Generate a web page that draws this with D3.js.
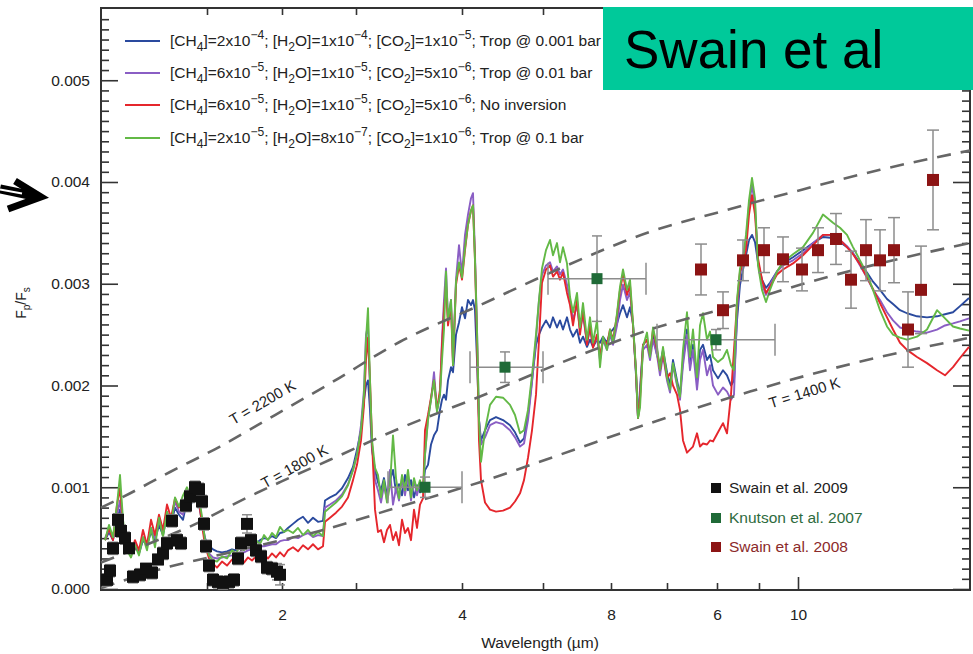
<!DOCTYPE html>
<html><head><meta charset="utf-8">
<script src="https://cdn.jsdelivr.net/npm/d3@7"></script>
<style>
body{margin:0;background:#fff}
svg{display:block}
text{font-family:"Liberation Sans",Arial,Helvetica,sans-serif}
</style>
</head><body>
<svg id="c" width="973" height="654"></svg>
<script>
// Fp/Fs values are given in units of 10^-3
const FLUX_UNIT = 1e-3;

// stitched wavelength axis positions (axis units) and tick labels
const xTickPos    = [10.6, 18.1, 25.5, 36.1, 44.2, 51.0, 56.6, 61.6, 65.8, 69.7];
const xTickLabels = ['', '2', '', '4', '', '8', '', '6', '', '10'];
const yTickMajor  = [0, 0.001, 0.002, 0.003, 0.004, 0.005];

// model spectra sample positions
const modelX = [
 0.4,0.8,1.2,1.6,1.9,2.2,2.6,3.0,3.4,3.8, 4.2,4.6,5.0,5.4,5.8,6.2,6.6,7.0,7.4,7.8, 8.2,8.6,9.0,9.4,9.8,10.1,10.4,10.8,11.2,11.6, 12.1,12.6,13.1,13.5,13.9,14.3,14.7,15.1,15.5,15.9, 16.3,16.7,17.1,17.5,17.9,18.3,18.7,19.2,19.7,20.2, 20.7,21.2,21.7,22.2,
 22.4,22.9,23.5,24.1,24.7,25.2,25.6,26.0,26.3,26.5, 26.7,26.9,27.1,27.4,27.7,28.0,28.3,28.6,28.9,29.2, 29.5,29.8,30.1,30.4,30.7,31.0,31.3,31.6,31.9,32.2,
 32.4,32.7,33.0,33.3,33.6,33.9,34.1,34.3,34.5,34.7, 35.0,35.2,35.5,35.8,36.1,36.4,36.7,37.0,37.2,37.4, 37.6,37.8,38.0,
 38.4,38.9,39.5,40.2,40.9,41.4,41.9,42.3,42.7,43.1, 43.5,43.8,44.1,44.5,44.9,45.2,45.6,45.9,46.2,46.6, 46.9,47.2,47.6,47.9,48.2,48.6,48.9,49.2,49.6,49.9, 50.2,50.6,50.9,51.2,51.6,51.9,52.2,52.6,52.9,53.2, 53.5,53.7,53.9,
 54.2,54.6,54.9,55.2,55.6,55.9,56.2,56.6,56.9,57.2, 57.6,57.9,58.2,58.6,58.9,59.2,59.6,59.9,60.2,60.6, 60.9,61.2,61.7,62.2,62.6,63.0,63.3,63.6,63.9,64.2, 64.5,64.8,65.1,65.4,65.7,66.1,66.5,66.9,67.6,68.2, 69.2,70.2,71.2,72.2,73.2,73.9,74.6,75.2,75.9,76.6, 77.2,77.9,78.6,79.2,79.9,80.6,81.6,82.6,83.6,84.4, 85.2,85.9,86.8
];

// [CH4]=2e-4; [H2O]=1e-4; [CO2]=1e-5; Trop @ 0.001 bar
const modelBlue = [
 0.48,0.56,0.48,0.68,0.78,0.58,0.40,0.35,0.43,0.35, 0.48,0.43,0.56,0.48,0.63,0.53,0.73,0.63,0.80,0.73, 0.68,0.87,0.83,0.95,0.83,0.66,0.50,0.42,0.39,0.37, 0.36,0.37,0.39,0.38,0.41,0.40,0.43,0.42,0.45,0.48, 0.50,0.49,0.52,0.50,0.55,0.56,0.60,0.64,0.68,0.71, 0.65,0.70,0.66,0.67,
 0.87,0.90,0.93,0.99,1.09,1.20,1.37,1.56,1.86,2.00, 2.05,1.76,1.37,1.17,1.05,0.97,1.09,0.92,1.07,1.17, 0.95,1.03,0.92,1.12,0.97,1.07,0.90,1.02,0.95,0.99,
 1.17,1.22,1.42,1.51,1.56,1.76,1.86,1.91,1.86,2.05, 2.18,2.13,2.50,2.62,2.77,2.66,2.84,2.79,2.84,2.74, 2.25,1.66,1.46,
 1.56,1.66,1.69,1.66,1.61,1.54,1.44,1.48,1.71,2.05, 2.40,2.50,2.57,2.64,2.57,2.67,2.57,2.64,2.55,2.67, 2.55,2.48,2.55,2.42,2.48,2.38,2.45,2.38,2.45,2.42, 2.48,2.42,2.52,2.55,2.61,2.71,2.79,2.67,2.77,2.61, 2.10,1.68,1.96,
 2.40,2.45,2.33,2.50,2.30,2.20,2.35,2.13,2.00,2.25, 2.05,1.91,2.25,2.55,2.20,2.40,2.05,2.35,2.40,2.25, 2.30,2.15,2.07,2.15,2.10,2.00,2.05,2.64,2.99,3.14, 3.28,3.43,3.48,3.41,3.21,3.04,2.96,3.01,3.12,3.20, 3.26,3.33,3.40,3.46,3.45,3.41,3.36,3.30,3.20,3.11, 3.02,2.94,2.85,2.80,2.74,2.71,2.68,2.67,2.68,2.70, 2.72,2.78,2.86
];

// [CH4]=6e-5; [H2O]=1e-5; [CO2]=5e-6; Trop @ 0.01 bar
const modelPurple = [
 0.50,0.58,0.50,0.73,0.87,0.60,0.43,0.36,0.46,0.36, 0.51,0.45,0.60,0.50,0.68,0.55,0.76,0.65,0.86,0.76, 0.73,0.92,0.87,0.99,0.87,0.68,0.46,0.35,0.31,0.30, 0.31,0.32,0.33,0.34,0.36,0.36,0.38,0.39,0.40,0.42, 0.42,0.43,0.44,0.44,0.47,0.48,0.48,0.51,0.50,0.53, 0.55,0.51,0.53,0.52,
 0.80,0.83,0.87,0.93,1.03,1.17,1.32,1.61,1.96,2.50, 2.59,1.96,1.42,1.07,0.97,0.85,1.02,0.87,1.17,0.83, 0.99,0.87,1.09,0.92,1.12,0.87,1.07,0.92,1.05,0.95,
 1.32,1.68,1.86,2.13,1.76,1.91,2.45,2.84,3.15,2.64, 2.84,2.25,3.04,3.38,3.09,3.48,3.68,3.84,3.89,3.28, 2.55,1.66,1.42,
 1.49,1.61,1.64,1.62,1.56,1.49,1.40,1.43,1.66,2.03, 2.45,2.84,3.09,3.18,3.21,3.12,3.17,3.09,3.14,2.99, 2.84,2.64,2.79,2.55,2.69,2.42,2.55,2.40,2.47,2.25, 2.45,2.35,2.50,2.40,2.59,2.84,2.99,2.84,2.92,2.59, 2.13,1.68,1.91,
 2.35,2.40,2.25,2.45,2.30,2.10,2.30,2.05,1.93,2.20, 2.00,1.86,2.20,2.50,2.15,2.35,1.96,2.25,2.35,2.10, 2.20,2.00,1.91,1.98,1.94,1.86,1.91,2.74,3.09,3.21, 3.43,3.77,3.97,3.77,3.21,2.99,2.89,2.99,3.12,3.18, 3.23,3.30,3.40,3.48,3.48,3.43,3.37,3.30,3.18,3.06, 2.94,2.84,2.72,2.64,2.57,2.55,2.53,2.52,2.55,2.59, 2.61,2.63,2.66
];

// [CH4]=6e-5; [H2O]=1e-5; [CO2]=5e-6; No inversion
const modelRed = [
 0.48,0.60,0.48,0.83,0.99,0.63,0.43,0.36,0.48,0.38, 0.58,0.43,0.68,0.53,0.73,0.58,0.83,0.70,0.89,0.80, 0.83,0.95,0.89,1.01,0.87,0.63,0.43,0.30,0.25,0.21, 0.27,0.23,0.29,0.25,0.29,0.26,0.31,0.28,0.32,0.29, 0.34,0.30,0.35,0.31,0.36,0.32,0.38,0.41,0.37,0.43, 0.39,0.44,0.39,0.42,
 0.66,0.70,0.75,0.81,0.90,1.07,1.22,1.46,1.81,2.25, 2.47,2.05,1.46,0.78,0.56,0.58,0.46,0.58,0.63,0.48, 0.56,0.43,0.68,0.55,0.60,0.48,0.78,0.60,0.83,0.89,
 1.56,1.71,1.88,2.05,1.76,1.96,2.40,2.74,2.99,2.59, 2.79,2.20,2.99,3.18,3.04,3.33,3.58,3.72,3.77,3.23, 2.45,1.46,1.07,
 0.85,0.78,0.76,0.77,0.80,0.86,0.94,1.07,1.29,1.56, 1.91,2.45,3.01,3.14,3.18,3.07,3.12,3.04,3.11,2.91, 2.79,2.59,2.84,2.50,2.74,2.40,2.59,2.37,2.50,2.30, 2.45,2.40,2.55,2.45,2.69,2.94,3.09,2.89,2.99,2.59, 2.13,1.68,1.86,
 2.40,2.45,2.30,2.55,2.35,2.15,2.33,2.07,2.12,2.00, 1.91,1.76,1.46,1.34,1.37,1.40,1.53,1.40,1.43,1.42, 1.46,1.45,1.54,1.63,1.53,1.91,2.35,2.81,3.12,3.20, 3.33,3.68,3.87,3.68,3.25,3.04,2.91,2.97,3.09,3.14, 3.20,3.28,3.38,3.48,3.48,3.43,3.36,3.29,3.19,3.06, 2.95,2.81,2.67,2.55,2.42,2.35,2.28,2.22,2.15,2.10, 2.18,2.27,2.38
];

// [CH4]=2e-5; [H2O]=8e-7; [CO2]=1e-6; Trop @ 0.1 bar
const modelGreen = [
 0.48,0.63,0.51,0.83,1.12,0.68,0.38,0.31,0.43,0.33, 0.51,0.38,0.60,0.41,0.70,0.51,0.76,0.63,0.90,0.81, 0.92,1.00,0.90,1.04,0.90,0.71,0.48,0.33,0.28,0.27, 0.32,0.30,0.38,0.35,0.42,0.38,0.45,0.41,0.48,0.44, 0.53,0.48,0.55,0.51,0.61,0.56,0.58,0.55,0.60,0.53, 0.58,0.52,0.56,0.52,
 0.76,0.80,0.85,0.91,1.02,1.17,1.32,1.56,1.91,2.45, 2.76,2.05,1.46,1.19,1.12,0.90,1.07,0.85,1.02,1.51, 1.09,0.89,1.12,0.97,1.17,0.90,1.09,0.97,1.07,0.95,
 1.32,1.66,1.86,2.05,1.74,1.91,2.25,2.55,3.12,2.64, 2.84,2.20,3.02,3.21,3.06,3.35,3.58,3.72,3.77,3.23, 2.55,1.66,1.25,
 1.56,1.81,1.89,1.88,1.81,1.71,1.53,1.56,1.76,2.10, 2.50,2.84,3.15,3.33,3.43,3.28,3.40,3.21,3.36,3.20, 2.87,2.72,2.91,2.57,2.81,2.45,2.67,2.42,2.64,2.18, 2.48,2.35,2.55,2.42,2.71,2.97,3.14,2.94,3.04,2.61, 2.15,1.68,1.78,
 2.38,2.52,2.28,2.57,2.38,2.15,2.38,2.08,1.96,2.22, 2.02,1.89,2.35,2.72,2.28,2.55,2.08,2.59,2.71,2.45, 2.53,2.28,2.23,2.27,2.35,2.20,2.15,2.84,3.15,3.25, 3.48,3.82,4.04,3.84,3.18,2.94,2.82,2.94,3.12,3.21, 3.29,3.36,3.50,3.68,3.60,3.55,3.48,3.36,3.23,3.10, 2.94,2.74,2.58,2.50,2.47,2.45,2.48,2.55,2.74,2.66, 2.58,2.56,2.54
];

// blackbody ratio curves [axis pos, Fp/Fs]
const bb2200 = [[0,0.80],[1.9,0.89],[6.9,1.15],[11.9,1.40],[17.4,1.71],[22.9,2.02],[29.9,2.43],[37.9,2.79],[45.9,3.15],[54.9,3.51],[62.4,3.72],[69.9,3.92],[77.9,4.12],[86.9,4.31]];
const bb1800 = [[0,0.26],[4.9,0.45],[9.9,0.66],[13.2,0.83],[17.9,1.05],[22.9,1.27],[29.9,1.58],[37.6,1.88],[45.9,2.22],[54.9,2.55],[62.4,2.76],[69.9,2.99],[77.9,3.20],[86.9,3.40]];
const bb1400 = [[0,0.01],[6.9,0.22],[9.9,0.29],[15.9,0.43],[22.2,0.58],[29.9,0.81],[37.9,1.05],[45.9,1.32],[54.9,1.63],[64.9,1.94],[74.9,2.21],[86.9,2.47]];
const bbLabels = [
  {t:'T = 2200 K', x:16.4, v:1.79, rot:-30},
  {t:'T = 1800 K', x:19.6, v:1.16, rot:-29},
  {t:'T = 1400 K', x:70.5, v:1.88, rot:-17}
];

// Swain et al. 2009 [pos, value, err]
const swain2009 = [
 [0.6,0.09,0.06],[0.9,0.18,0.06],[1.2,0.40,0.06],[1.7,0.68,0.06],[2.0,0.57,0.06],[2.4,0.50,0.06],[2.8,0.40,0.05],[3.2,0.12,0.06],[3.9,0.14,0.06],[4.5,0.20,0.05],
 [5.1,0.16,0.06],[5.7,0.29,0.05],[6.2,0.35,0.06],[6.6,0.45,0.06],[7.1,0.67,0.06],[7.6,0.48,0.06],[8.0,0.45,0.06],[8.5,0.82,0.06],[8.9,0.91,0.06],[9.4,1.00,0.06],
 [9.8,0.98,0.06],[10.1,0.86,0.06],[10.3,0.64,0.06],[10.5,0.42,0.06],[10.8,0.23,0.06],[11.2,0.09,0.06],[11.7,0.07,0.06],[12.2,0.06,0.06],[12.8,0.07,0.06],[13.3,0.09,0.06],
 [13.7,0.30,0.06],[14.0,0.45,0.06],[14.6,0.64,0.09],[15.0,0.48,0.06],[15.5,0.38,0.06],[16.0,0.32,0.06],[16.6,0.21,0.06],[17.1,0.20,0.06],[17.6,0.17,0.08],[17.9,0.14,0.10]
];
// Knutson et al. 2007 [pos, value, posLo, posHi, err]
const knutson2007 = [[32.4,1.00,28.7,36.1,0.10],[40.4,2.18,36.9,44.2,0.15],[49.6,3.05,44.7,54.5,0.42],[61.5,2.45,55.6,67.4,0.10]];
// Swain et al. 2008 [pos, value, err]
const swain2008 = [[60.0,3.14,0.25],[62.2,2.74,0.18],[64.2,3.23,0.20],[66.3,3.33,0.22],[68.2,3.24,0.22],[70.1,3.14,0.21],[71.7,3.33,0.22],[73.5,3.44,0.25],[75.0,3.04,0.28],[76.5,3.33,0.30],[77.9,3.23,0.30],[79.3,3.33,0.32],[80.7,2.55,0.37],[82.0,2.94,0.43],[83.2,4.02,0.49]];

const modelLegend = [
 '[CH_{4}]=2x10^{−4}; [H_{2}O]=1x10^{−4}; [CO_{2}]=1x10^{−5}; Trop @ 0.001 bar',
 '[CH_{4}]=6x10^{−5}; [H_{2}O]=1x10^{−5}; [CO_{2}]=5x10^{−6}; Trop @ 0.01 bar',
 '[CH_{4}]=6x10^{−5}; [H_{2}O]=1x10^{−5}; [CO_{2}]=5x10^{−6}; No inversion',
 '[CH_{4}]=2x10^{−5}; [H_{2}O]=8x10^{−7}; [CO_{2}]=1x10^{−6}; Trop @ 0.1 bar'
];
const dataLegend = ['Swain et al. 2009', 'Knutson et al. 2007', 'Swain et al. 2008'];

// ---------------- drawing ----------------
const W = 973, H = 654;
const L = 101, R = 970, T = 8, B = 589;
const svg = d3.select('#c');
const x = d3.scaleLinear().domain([0, 86.9]).range([L, R]);
const y = d3.scaleLinear().domain([0, 0.00571]).range([B, T]);
const fy = v => y(v * FLUX_UNIT);

const colBlue = '#2a4a9e', colPurple = '#8a5ec4', colRed = '#e5262c', colGreen = '#63b946';
const FS = 15.5;

// axes
const yMinor = d3.range(0, 57).map(i => i * 0.0001).filter(v => Math.round(v * 10000) % 10 !== 0);
const axisG = svg.append('g').attr('class', 'axes');
const tickStyle = g => { g.select('.domain').remove(); g.selectAll('line').attr('stroke', '#333').attr('stroke-width', 1.6); g.selectAll('text').attr('fill', '#222').attr('font-size', FS).attr('font-family', '"Liberation Sans",Arial,sans-serif'); };

axisG.append('g').attr('transform', `translate(${L},0)`)
  .call(d3.axisLeft(y).tickValues(yTickMajor).tickSize(-17).tickPadding(11).tickFormat(d3.format('.3f'))).call(tickStyle);
axisG.append('g').attr('transform', `translate(${L},0)`)
  .call(d3.axisLeft(y).tickValues(yMinor).tickSize(-8).tickFormat('')).call(tickStyle);
axisG.append('g').attr('transform', `translate(${R},0)`)
  .call(d3.axisRight(y).tickValues(yTickMajor).tickSize(-17).tickFormat('')).call(tickStyle);
axisG.append('g').attr('transform', `translate(${R},0)`)
  .call(d3.axisRight(y).tickValues(yMinor).tickSize(-8).tickFormat('')).call(tickStyle);

const bottomAxis = axisG.append('g').attr('transform', `translate(0,${B + 1})`)
  .call(d3.axisBottom(x).tickValues(xTickPos).tickSize(-7).tickPadding(19).tickFormat((d, i) => xTickLabels[i])).call(tickStyle);
bottomAxis.selectAll('.tick').filter((d, i) => xTickLabels[i] === '10').select('line').attr('y2', -13);
axisG.append('g').attr('transform', `translate(0,${T})`)
  .call(d3.axisTop(x).tickValues(xTickPos).tickSize(-7).tickFormat('')).call(tickStyle);

// frame
svg.append('rect').attr('x', L).attr('y', T).attr('width', R - L).attr('height', B + 1 - T)
  .attr('fill', 'none').attr('stroke', '#333').attr('stroke-width', 2);

// model curves
const line = d3.line().x((d, i) => x(modelX[i])).y(d => fy(d));
[[modelBlue, colBlue], [modelPurple, colPurple], [modelRed, colRed], [modelGreen, colGreen]].forEach(([arr, c]) => {
  svg.append('path').attr('d', line(arr)).attr('fill', 'none').attr('stroke', c).attr('stroke-width', 1.9).attr('stroke-linejoin', 'round');
});

// blackbody dashed curves
const bbLine = d3.line().x(d => x(d[0])).y(d => fy(d[1])).curve(d3.curveMonotoneX);
[bb2200, bb1800, bb1400].forEach(arr => {
  svg.append('path').attr('d', bbLine(arr)).attr('fill', 'none').attr('stroke', '#666')
    .attr('stroke-width', 2.6).attr('stroke-dasharray', '14,10');
});
bbLabels.forEach(b => {
  svg.append('text').attr('transform', `translate(${x(b.x)},${fy(b.v)}) rotate(${b.rot})`)
    .attr('text-anchor', 'middle').attr('font-size', 15).attr('fill', '#222').text(b.t);
});

// error bar helper
const errCol = '#8c8c8c';
function vbar(g, px, y1, y2, cap) {
  g.append('line').attr('x1', px).attr('x2', px).attr('y1', y1).attr('y2', y2).attr('stroke', errCol).attr('stroke-width', 1.5);
  [y1, y2].forEach(yy => g.append('line').attr('x1', px - cap).attr('x2', px + cap).attr('y1', yy).attr('y2', yy).attr('stroke', errCol).attr('stroke-width', 1.5));
}
function hbar(g, x1, x2, py, cap) {
  g.append('line').attr('x1', x1).attr('x2', x2).attr('y1', py).attr('y2', py).attr('stroke', errCol).attr('stroke-width', 1.5);
  [x1, x2].forEach(xx => g.append('line').attr('x1', xx).attr('x2', xx).attr('y1', py - cap).attr('y2', py + cap).attr('stroke', errCol).attr('stroke-width', 1.5));
}

// Swain 2009
const g09 = svg.append('g');
swain2009.forEach(d => vbar(g09, x(d[0]), fy(d[1] + d[2]), fy(d[1] - d[2]), 5));
g09.selectAll('rect').data(swain2009).join('rect')
  .attr('x', d => x(d[0]) - 6).attr('y', d => fy(d[1]) - 6).attr('width', 12).attr('height', 12).attr('fill', '#111');

// Knutson 2007
const gk = svg.append('g');
knutson2007.forEach(d => {
  hbar(gk, x(d[2]), x(d[3]), fy(d[1]), 16);
  vbar(gk, x(d[0]), fy(d[1] + d[4]), fy(d[1] - d[4]), 5);
});
gk.selectAll('rect').data(knutson2007).join('rect')
  .attr('x', d => x(d[0]) - 5.5).attr('y', d => fy(d[1]) - 5.5).attr('width', 11).attr('height', 11).attr('fill', '#1f6a37');

// Swain 2008
const g08 = svg.append('g');
swain2008.forEach(d => vbar(g08, x(d[0]), fy(d[1] + d[2]), fy(d[1] - d[2]), 6));
g08.selectAll('rect').data(swain2008).join('rect')
  .attr('x', d => x(d[0]) - 6).attr('y', d => fy(d[1]) - 6).attr('width', 12).attr('height', 12).attr('fill', '#8c1414');

// rich text helper
function richText(sel, str, fs, small) {
  const parts = str.split(/(_\{[^}]*\}|\^\{[^}]*\})/).filter(s => s.length);
  let shift = 0;
  parts.forEach(p => {
    let txt = p, size = fs, target = 0;
    if (p.startsWith('_{')) { txt = p.slice(2, -1); target = fs * 0.3; size = fs * small; }
    else if (p.startsWith('^{')) { txt = p.slice(2, -1); target = -fs * 0.42; size = fs * small; }
    sel.append('tspan').attr('dy', target - shift).attr('font-size', size).text(txt);
    shift = target;
  });
}

// model legend
const legY = [41, 73, 105, 138];
const legCols = [colBlue, colPurple, colRed, colGreen];
modelLegend.forEach((s, i) => {
  svg.append('line').attr('x1', 125).attr('x2', 160).attr('y1', legY[i]).attr('y2', legY[i]).attr('stroke', legCols[i]).attr('stroke-width', 2.2);
  const t = svg.append('text').attr('x', 170).attr('y', legY[i] + 5).attr('font-size', FS).attr('fill', '#222');
  richText(t, s, FS, 0.78);
});

// data legend
const dlY = [488, 518, 547];
const dlCols = ['#111', '#1f6a37', '#8c1414'];
const dlText = ['#222', '#2e6b3e', '#8b2a2a'];
dataLegend.forEach((s, i) => {
  svg.append('rect').attr('x', 711).attr('y', dlY[i] - 5).attr('width', 10).attr('height', 10).attr('fill', dlCols[i]);
  svg.append('text').attr('x', 729).attr('y', dlY[i] + 5).attr('font-size', FS).attr('fill', dlText[i]).text(s);
});

// axis titles
const yt = svg.append('text').attr('transform', 'translate(26,303) rotate(-90)').attr('text-anchor', 'middle').attr('font-size', 14).attr('fill', '#222');
richText(yt, 'F_{p}/F_{s}', 14, 0.72);
svg.append('text').attr('x', 540).attr('y', 648).attr('text-anchor', 'middle').attr('font-size', 15.5).attr('fill', '#222').text('Wavelength (µm)');

// title box
svg.append('rect').attr('x', 603).attr('y', 7).attr('width', W - 603).attr('height', 83).attr('fill', '#00c99a');
svg.append('text').attr('x', 624).attr('y', 68).attr('font-size', 53).attr('fill', '#000').text('Swain et al');

// arrow annotation
const ag = svg.append('g');
ag.append('path').attr('d', 'M0,189 L34,196').attr('stroke', '#000').attr('stroke-width', 9).attr('fill', 'none');
ag.append('path').attr('d', 'M0,189.5 L22,193.5').attr('stroke', '#fff').attr('stroke-width', 2).attr('fill', 'none');
ag.append('path').attr('d', 'M15,181 L41,197 L8,209').attr('stroke', '#000').attr('stroke-width', 7).attr('fill', 'none').attr('stroke-linejoin', 'miter');
</script>
</body></html>
